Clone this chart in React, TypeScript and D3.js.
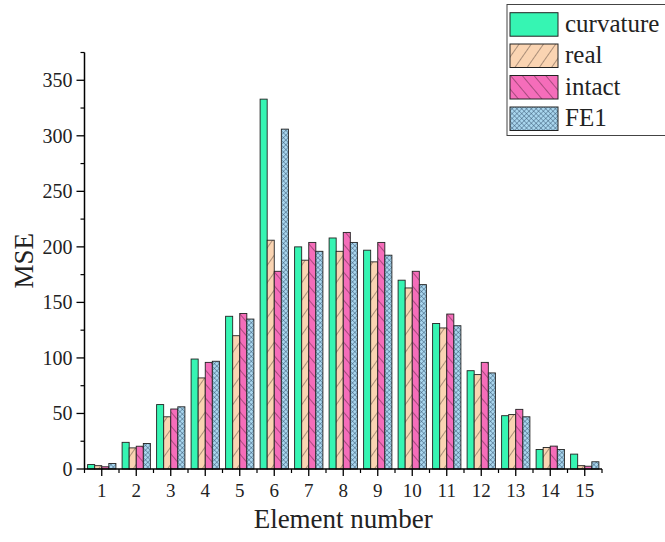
import React from "react";
import * as d3 from "d3";

const elements = ["1","2","3","4","5","6","7","8","9","10","11","12","13","14","15"];
const curvature = [4, 24, 58, 99, 137.5, 333, 200, 208, 197, 170, 131, 88.5, 48, 17.6, 13.4];
const real = [3, 19, 47, 82, 120, 206, 188, 196, 186.5, 163, 127, 85, 49, 19.4, 3];
const intact = [2, 20.5, 54, 96, 140, 178, 204, 213, 204, 178, 139.5, 96, 53.7, 20.6, 2.5];
const fe1 = [5, 23, 56, 97, 135, 306, 196, 204, 192.5, 166, 129, 86.5, 47, 17.6, 6.5];
const seriesNames = ["curvature", "real", "intact", "FE1"];
const yTicks = [0, 50, 100, 150, 200, 250, 300, 350];

const W = 665, H = 542;
const left = 84.5, right = 602, top = 52.5, bottom = 469;
const FONT = "'Liberation Serif', 'Times New Roman', serif";

export default function App() {
  const x = d3.scaleBand<string>().domain(elements).range([left, right]).padding(0);
  const bw = x.bandwidth();
  const gw = bw * 0.82;
  const sub = d3.scaleBand<string>().domain(seriesNames).range([(bw - gw) / 2, (bw + gw) / 2]).padding(0);
  const y = d3.scaleLinear().domain([0, 375]).range([bottom, top]);
  const data = [curvature, real, intact, fe1];
  const fills = ["#36F5B3", "url(#pReal)", "url(#pIntact)", "url(#pFE1)"];
  const minorY = d3.range(25, 376, 50);
  const boundaries = d3.range(0, elements.length + 1).map((i) => left + i * bw);

  const legendTops = [12.7, 44, 75.5, 107];

  return (
    <svg width={W} height={H} style={{ position: "absolute", left: 0, top: 0, background: "#fff" }}>
      <defs>
        <pattern id="pReal" patternUnits="userSpaceOnUse" width="10" height="10" patternTransform="rotate(35)">
          <rect width="10" height="10" fill="#FAD4B2" />
          <line x1="0" y1="0" x2="0" y2="10" stroke="#4a3a30" strokeWidth="0.9" />
        </pattern>
        <pattern id="pIntact" patternUnits="userSpaceOnUse" width="9" height="9" patternTransform="rotate(-40)">
          <rect width="9" height="9" fill="#F56DBA" />
          <line x1="0" y1="0" x2="0" y2="9" stroke="#4a2035" strokeWidth="0.9" />
        </pattern>
        <pattern id="pFE1" patternUnits="userSpaceOnUse" width="3.4" height="3.4" patternTransform="rotate(45)">
          <rect width="3.4" height="3.4" fill="#A9D6EE" />
          <line x1="0" y1="0" x2="3.4" y2="0" stroke="#2d4a66" strokeWidth="0.8" />
          <line x1="0" y1="0" x2="0" y2="3.4" stroke="#2d4a66" strokeWidth="0.8" />
        </pattern>
      </defs>

      {elements.map((e, i) => (
        <g key={e} transform={`translate(${x(e)},0)`}>
          {data.map((arr, s) => (
            <rect
              key={s}
              x={sub(seriesNames[s])}
              y={y(arr[i])}
              width={sub.bandwidth()}
              height={y(0) - y(arr[i])}
              fill={fills[s]}
              stroke="#222"
              strokeWidth={0.9}
            />
          ))}
        </g>
      ))}

      {/* Y axis */}
      <line x1={left} x2={left} y1={top} y2={bottom} stroke="#000" strokeWidth={1.5} />
      {yTicks.map((t) => (
        <g key={t}>
          <line x1={left - 8} x2={left} y1={y(t)} y2={y(t)} stroke="#000" strokeWidth={1.3} />
          <text x={left - 12} y={y(t)} dy="0.35em" textAnchor="end" fontFamily={FONT} fontSize={20} fill="#222">{t}</text>
        </g>
      ))}
      {minorY.map((t) => (
        <line key={t} x1={left - 4} x2={left} y1={y(t)} y2={y(t)} stroke="#000" strokeWidth={1.2} />
      ))}

      {/* X axis */}
      <line x1={left} x2={right} y1={bottom} y2={bottom} stroke="#000" strokeWidth={1.5} />
      {elements.map((e) => (
        <g key={e}>
          <line x1={x(e)! + bw / 2} x2={x(e)! + bw / 2} y1={bottom} y2={bottom + 7} stroke="#000" strokeWidth={1.3} />
          <text x={x(e)! + bw / 2} y={bottom + 28} textAnchor="middle" fontFamily={FONT} fontSize={19} fill="#222">{e}</text>
        </g>
      ))}
      {boundaries.map((b, i) => (
        <line key={i} x1={b} x2={b} y1={bottom} y2={bottom + 4} stroke="#000" strokeWidth={1.2} />
      ))}

      <text x={(left + right) / 2} y={528} textAnchor="middle" fontFamily={FONT} fontSize={27} fill="#222">Element number</text>
      <text transform={`translate(33,${(top + bottom) / 2 + 0}) rotate(-90)`} textAnchor="middle" fontFamily={FONT} fontSize={27} fill="#222">MSE</text>

      {/* Legend */}
      <rect x={507} y={4.5} width={170} height={131} fill="#fff" stroke="#444" strokeWidth={1} />
      {seriesNames.map((n, i) => (
        <g key={n}>
          <rect x={510} y={legendTops[i]} width={48} height={23.5} fill={fills[i]} stroke="#222" strokeWidth={1} />
          <text x={565} y={legendTops[i] + 19} fontFamily={FONT} fontSize={25} fill="#222">{n}</text>
        </g>
      ))}
    </svg>
  );
}
